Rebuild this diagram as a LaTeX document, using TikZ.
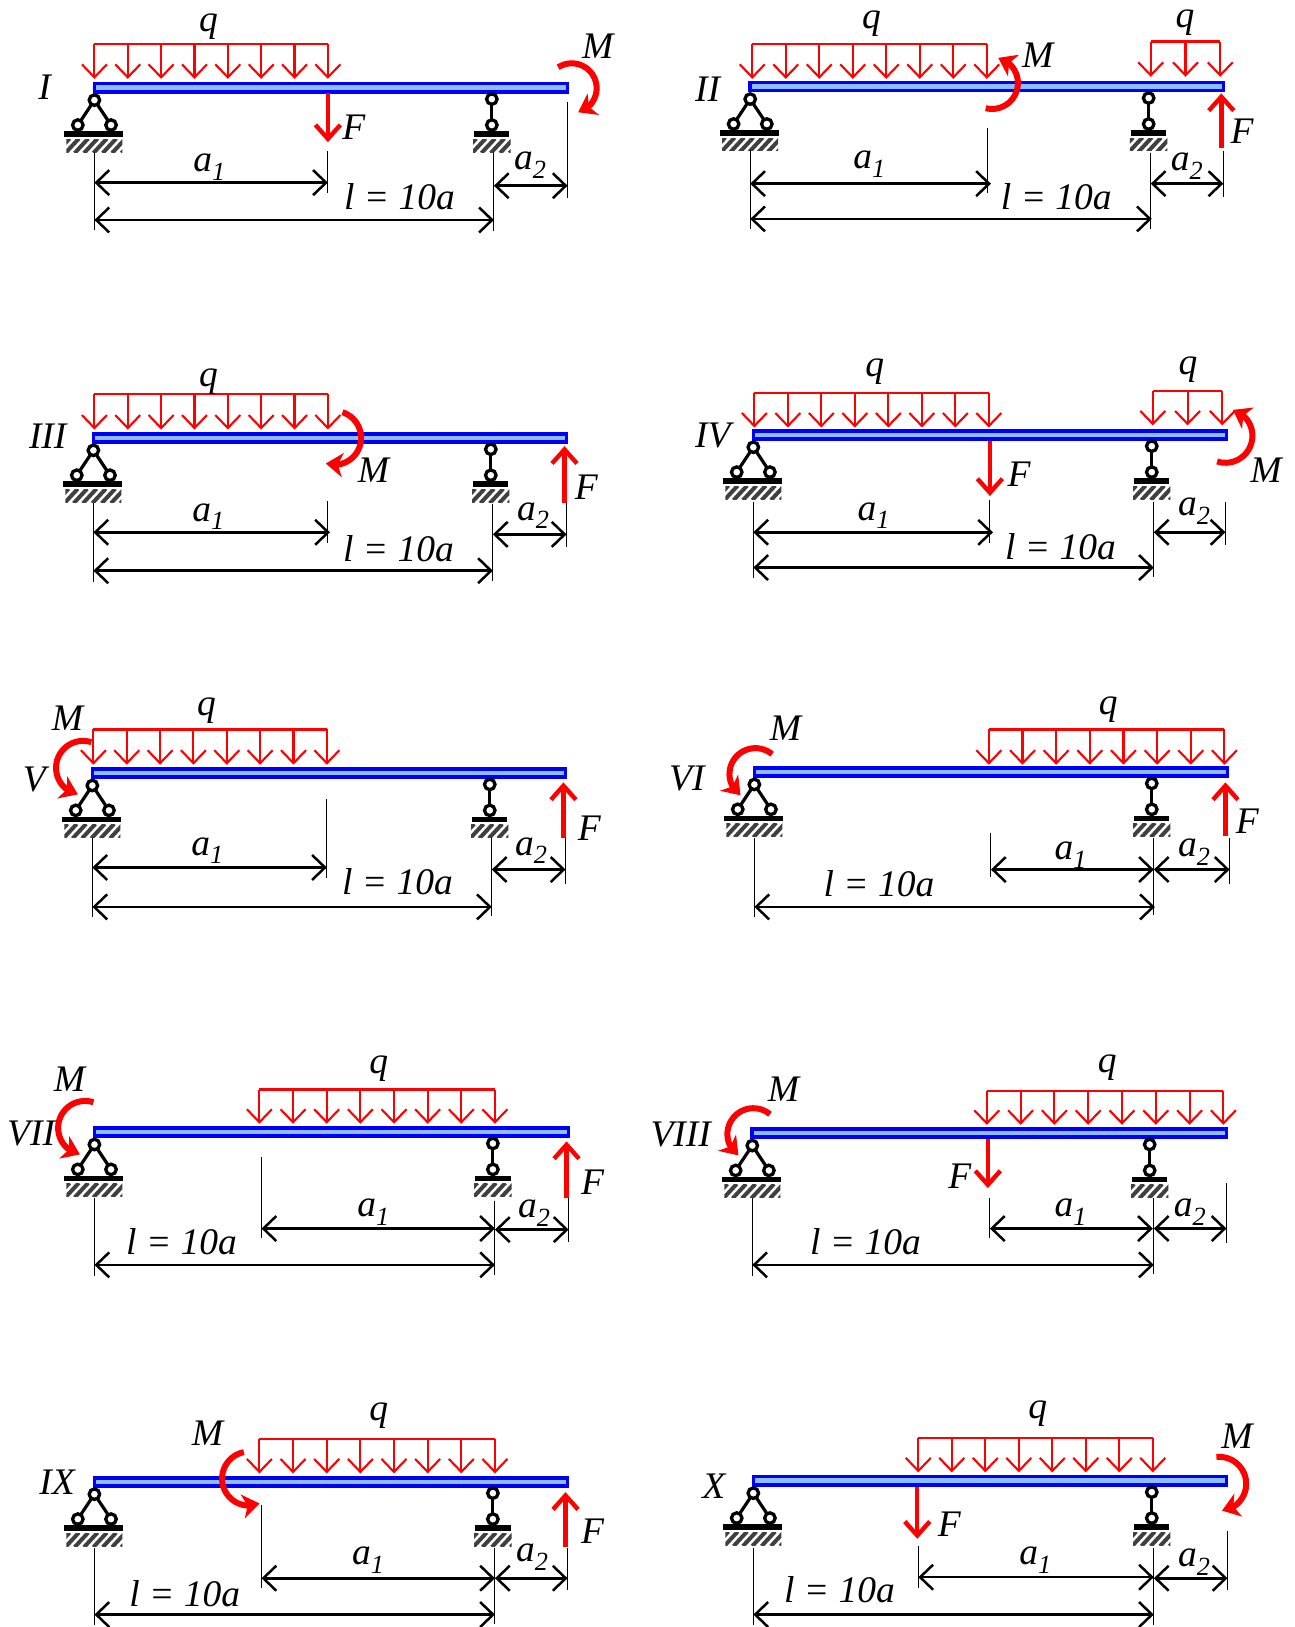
\documentclass[tikz,border=0pt]{standalone}
\usepackage{fontspec}
\setmainfont{Liberation Serif}
\usepackage{tikz}
\usetikzlibrary{arrows.meta}
\definecolor{beamblue}{RGB}{0,0,245}
\definecolor{beamlight}{RGB}{140,190,255}
\tikzstyle{lab} = [inner sep=0pt, font=\fontsize{37.5}{37.5}\selectfont\itshape]
\tikzstyle{qlab} = [lab, yshift=-4pt]
\tikzstyle{alab} = [lab, yshift=-3pt]
\tikzstyle{dim} = [draw, line width=2.5pt, {Straight Barb[length=13pt,width=25pt]}-{Straight Barb[length=13pt,width=25pt]}]
\tikzstyle{ext} = [draw, line width=1pt]
\tikzstyle{qline} = [draw, red, line width=2.1pt]
\tikzstyle{qarrow} = [qline, -{Straight Barb[length=13pt,width=25pt]}]
\tikzstyle{force} = [draw, red, line width=4.4pt, -{Straight Barb[length=14pt,width=25pt]}]
\tikzstyle{moment} = [draw, red, line width=6pt, -{Stealth[length=17pt,width=24pt,inset=5pt]}]
\tikzstyle{hinge} = [draw, fill=white, line width=3.3pt, circle, minimum size=10.5pt, inner sep=0pt]
\tikzstyle{link} = [draw, line width=3.2pt]
\newcommand{\beam}[3]{\draw[beamblue, line width=3.6pt, fill=beamlight] (#1,#3-3.9) rectangle (#2,#3+3.9);}
\newcommand{\hatchbox}[3]{%
  \begin{scope}
    \clip (#1,#3+50) rectangle (#2,#3+62);
    \foreach \k in {-10,-1,...,70} {\draw[line width=4pt, black!75] (#1+\k,#3+63) -- (#1+\k+13,#3+49);}
  \end{scope}}
\newcommand{\pinsupport}[2]{%
  \draw[link] (#1,#2+12) -- (#1-16,#2+36) (#1,#2+12) -- (#1+16,#2+36);
  \node[hinge] at (#1,#2+12) {};
  \node[hinge] at (#1-16,#2+36) {};
  \node[hinge] at (#1+16,#2+36) {};
  \fill (#1-29,#2+42) rectangle (#1+28,#2+47.5);
  \hatchbox{#1-27}{#1+27}{#2}}
\newcommand{\rollersupport}[2]{%
  \draw[link] (#1,#2+11) -- (#1,#2+36);
  \node[hinge] at (#1,#2+11) {};
  \node[hinge] at (#1,#2+36) {};
  \fill (#1-17,#2+42) rectangle (#1+17,#2+47.5);
  \hatchbox{#1-18}{#1+18}{#2}}
\newcommand{\qload}[5]{%
  \draw[qline] (#1,#3) -- (#2,#3);
  \pgfmathsetmacro{\qstep}{(#2-#1)/(#5-1)}
  \foreach \k in {1,...,#5} {\draw[qarrow] ({#1+(\k-1)*\qstep},#3) -- ({#1+(\k-1)*\qstep},#4);}}
\newcommand{\momentarc}[5]{%
  \pgfmathsetmacro{\arcstop}{#5+sign(#4-#5)*26}
  \draw[moment] plot[domain=#4:\arcstop, samples=24, smooth] ({#1+#3*cos(\x)},{#2+#3*sin(\x)}) -- ({#1+#3*cos(#5)},{#2+#3*sin(#5)});}
\begin{document}
\begin{tikzpicture}[x=1.0377pt, y=-1.0377pt]
\useasboundingbox[fill=white] (0,0) rectangle (1248,1568);
\beam{91}{547}{84.5}
\pinsupport{91}{84.5}
\rollersupport{474}{84.5}
\qload{91}{316}{42}{76}{8}
\draw[force] (316,90) -- (316,137);
\momentarc{551}{85}{24}{-123}{75}
\draw[ext] (91,147) -- (91,222);
\draw[ext] (316,146) -- (316,186);
\draw[ext] (476,147) -- (476,223);
\draw[ext] (547,98) -- (547,191);
\path[dim] (91,176) -- (316,176);
\path[dim] (476,179) -- (547,179);
\path[dim] (91,212) -- (476,212);
\node[lab] (nameI) at (43,84) {I};
\node[qlab] (qI) at (201,22) {q};
\node[lab] (fI) at (341,123) {F};
\node[lab] (mI) at (576,45) {M};
\node[alab] (aoneI) at (202,158) {a\textsubscript{1}};
\node[alab] (atwoI) at (511,156) {a\textsubscript{2}};
\node[lab] (lI) at (385,190) {l = 10a};

\beam{723}{1179}{83.5}
\pinsupport{723}{83.5}
\rollersupport{1107}{83.5}
\qload{725}{951}{42}{76}{8}
\qload{1109}{1176}{40}{74}{3}
\draw[force] (1177,143) -- (1177,90);
\momentarc{956}{80}{25}{104}{-76}
\draw[ext] (723,145) -- (723,221);
\draw[ext] (952,123) -- (952,186);
\draw[ext] (1109,147) -- (1109,221);
\draw[ext] (1179,146) -- (1179,190);
\path[dim] (723,177) -- (955,177);
\path[dim] (1109,177) -- (1179,177);
\path[dim] (723,211) -- (1110,211);
\node[lab] (nameII) at (682,86) {II};
\node[qlab] (qIIa) at (840,19) {q};
\node[qlab] (qIIb) at (1142,18) {q};
\node[lab] (fII) at (1197,126) {F};
\node[lab] (mII) at (1000,53) {M};
\node[alab] (aoneII) at (838,155) {a\textsubscript{1}};
\node[alab] (atwoII) at (1144,157) {a\textsubscript{2}};
\node[lab] (lII) at (1018,190) {l = 10a};

\beam{90}{546}{422}
\pinsupport{90}{422}
\rollersupport{473}{422}
\qload{91}{316}{380}{414}{8}
\draw[force] (544,485) -- (544,430);
\momentarc{322}{422}{26}{-72}{108}
\draw[ext] (90,485) -- (90,561);
\draw[ext] (316,483) -- (316,523);
\draw[ext] (475,486) -- (475,560);
\draw[ext] (546,485) -- (546,527);
\path[dim] (90,513) -- (318,513);
\path[dim] (475,515) -- (546,515);
\path[dim] (90,550) -- (475,550);
\node[lab] (nameIII) at (46,420) {III};
\node[qlab] (qIII) at (201,364) {q};
\node[lab] (fIII) at (565,470) {F};
\node[lab] (mIII) at (360,453) {M};
\node[alab] (aoneIII) at (201,495) {a\textsubscript{1}};
\node[alab] (atwoIII) at (514,494) {a\textsubscript{2}};
\node[lab] (lIII) at (384,529) {l = 10a};

\beam{726}{1182}{419}
\pinsupport{726}{419}
\rollersupport{1110}{419}
\qload{727}{953}{379}{412}{8}
\qload{1111}{1178}{377}{410}{3}
\draw[force] (954,425) -- (954,478);
\momentarc{1181}{420}{26}{108}{-74}
\draw[ext] (726,484) -- (726,557);
\draw[ext] (954,482) -- (954,523);
\draw[ext] (1112,484) -- (1112,556);
\draw[ext] (1181,484) -- (1181,525);
\path[dim] (726,513) -- (957,513);
\path[dim] (1112,513) -- (1181,513);
\path[dim] (726,547) -- (1112,547);
\node[lab] (nameIV) at (687,420) {IV};
\node[qlab] (qIVa) at (843,354) {q};
\node[qlab] (qIVb) at (1145,352) {q};
\node[lab] (fIV) at (982,457) {F};
\node[lab] (mIV) at (1220,453) {M};
\node[alab] (aoneIV) at (842,494) {a\textsubscript{1}};
\node[alab] (atwoIV) at (1151,490) {a\textsubscript{2}};
\node[lab] (lIV) at (1022,527) {l = 10a};

\beam{89}{545}{745}
\pinsupport{89}{745}
\rollersupport{472}{745}
\qload{90}{315}{703}{737}{8}
\draw[force] (543,808) -- (543,754);
\momentarc{80}{740}{26}{288}{101}
\draw[ext] (89,808) -- (89,884);
\draw[ext] (315,770) -- (315,846);
\draw[ext] (474,808) -- (474,883);
\draw[ext] (545,808) -- (545,852);
\path[dim] (89,836) -- (315,836);
\path[dim] (474,838) -- (545,838);
\path[dim] (89,874) -- (474,874);
\node[lab] (nameV) at (33,751) {V};
\node[qlab] (qV) at (199,681) {q};
\node[lab] (fV) at (568,798) {F};
\node[lab] (mV) at (65,692) {M};
\node[alab] (aoneV) at (200,817) {a\textsubscript{1}};
\node[alab] (atwoV) at (512,817) {a\textsubscript{2}};
\node[lab] (lV) at (383,850) {l = 10a};

\beam{727}{1183}{744}
\pinsupport{727}{744}
\rollersupport{1110}{744}
\qload{953}{1180}{703}{737}{8}
\draw[force] (1181,806) -- (1181,754);
\momentarc{728}{746}{25}{310}{125}
\draw[ext] (727,808) -- (727,884);
\draw[ext] (955,803) -- (955,845);
\draw[ext] (1112,808) -- (1112,882);
\draw[ext] (1185,808) -- (1185,852);
\path[dim] (955,838) -- (1112,838);
\path[dim] (1112,838) -- (1185,838);
\path[dim] (727,874) -- (1113,874);
\node[lab] (nameVI) at (662,750) {VI};
\node[qlab] (qVI) at (1068,680) {q};
\node[lab] (fVI) at (1202,791) {F};
\node[lab] (mVI) at (757,702) {M};
\node[alab] (aoneVI) at (1032,821) {a\textsubscript{1}};
\node[alab] (atwoVI) at (1151,818) {a\textsubscript{2}};
\node[lab] (lVI) at (847,852) {l = 10a};

\beam{91}{548}{1091}
\pinsupport{91}{1091}
\rollersupport{475}{1091}
\qload{250}{477}{1050}{1083}{8}
\draw[force] (546,1155) -- (546,1100);
\momentarc{82}{1087}{26}{288}{101}
\draw[ext] (91,1155) -- (91,1230);
\draw[ext] (252,1115) -- (252,1193);
\draw[ext] (477,1157) -- (477,1229);
\draw[ext] (548,1155) -- (548,1197);
\path[dim] (252,1184) -- (477,1184);
\path[dim] (477,1185) -- (548,1185);
\path[dim] (91,1219) -- (477,1219);
\node[lab] (nameVII) at (30,1092) {VII};
\node[qlab] (qVII) at (365,1026) {q};
\node[lab] (fVII) at (571,1139) {F};
\node[lab] (mVII) at (67,1040) {M};
\node[alab] (aoneVII) at (360,1165) {a\textsubscript{1}};
\node[alab] (atwoVII) at (515,1166) {a\textsubscript{2}};
\node[lab] (lVII) at (175,1197) {l = 10a};

\beam{725}{1182}{1092}
\pinsupport{725}{1092}
\rollersupport{1108}{1092}
\qload{951}{1179}{1051}{1084}{8}
\draw[force] (952,1098) -- (952,1145);
\momentarc{726}{1093}{25}{310}{125}
\draw[ext] (725,1155) -- (725,1230);
\draw[ext] (954,1155) -- (954,1193);
\draw[ext] (1112,1155) -- (1112,1228);
\draw[ext] (1182,1140) -- (1182,1198);
\path[dim] (954,1184) -- (1111,1184);
\path[dim] (1112,1184) -- (1182,1184);
\path[dim] (725,1219) -- (1112,1219);
\node[lab] (nameVIII) at (656,1093) {VIII};
\node[qlab] (qVIII) at (1067,1025) {q};
\node[lab] (fVIII) at (925,1134) {F};
\node[lab] (mVIII) at (755,1050) {M};
\node[alab] (aoneVIII) at (1032,1165) {a\textsubscript{1}};
\node[alab] (atwoVIII) at (1147,1165) {a\textsubscript{2}};
\node[lab] (lVIII) at (834,1197) {l = 10a};

\beam{91}{547}{1428}
\pinsupport{91}{1428}
\rollersupport{475}{1428}
\qload{250}{477}{1387}{1420}{8}
\draw[force] (545,1491) -- (545,1438);
\momentarc{240}{1425}{26}{259}{67}
\draw[ext] (91,1492) -- (91,1566);
\draw[ext] (252,1450) -- (252,1530);
\draw[ext] (477,1492) -- (477,1565);
\draw[ext] (547,1492) -- (547,1532);
\path[dim] (252,1521) -- (477,1521);
\path[dim] (477,1521) -- (547,1521);
\path[dim] (91,1556) -- (477,1556);
\node[lab] (nameIX) at (55,1428) {IX};
\node[qlab] (qIX) at (365,1360) {q};
\node[lab] (fIX) at (571,1476) {F};
\node[lab] (mIX) at (200,1381) {M};
\node[alab] (aoneIX) at (355,1501) {a\textsubscript{1}};
\node[alab] (atwoIX) at (513,1498) {a\textsubscript{2}};
\node[lab] (lIX) at (178,1536) {l = 10a};

\beam{726}{1182}{1427}
\pinsupport{726}{1427}
\rollersupport{1110}{1427}
\qload{885}{1111}{1386}{1419}{8}
\draw[force] (884,1433) -- (884,1483);
\momentarc{1175}{1430}{26}{-96}{84}
\draw[ext] (726,1492) -- (726,1566);
\draw[ext] (885,1490) -- (885,1530);
\draw[ext] (1112,1492) -- (1112,1566);
\draw[ext] (1183,1475) -- (1183,1532);
\path[dim] (885,1520) -- (1112,1520);
\path[dim] (1112,1521) -- (1183,1521);
\path[dim] (726,1556) -- (1112,1556);
\node[lab] (nameX) at (688,1432) {X};
\node[qlab] (qX) at (1000,1359) {q};
\node[lab] (fX) at (915,1469) {F};
\node[lab] (mX) at (1192,1384) {M};
\node[alab] (aoneX) at (998,1501) {a\textsubscript{1}};
\node[alab] (atwoX) at (1151,1503) {a\textsubscript{2}};
\node[lab] (lX) at (809,1532) {l = 10a};
\end{tikzpicture}
\end{document}
